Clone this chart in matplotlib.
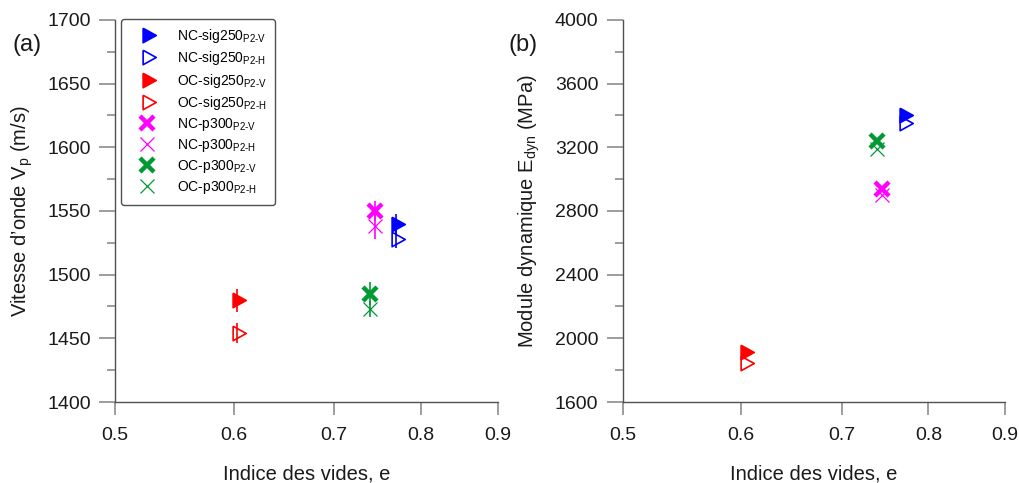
import matplotlib
matplotlib.use('Agg')
import matplotlib.pyplot as plt
from matplotlib.ticker import FixedLocator, NullLocator, MultipleLocator

plt.rcParams['font.family'] = ['Liberation Sans', 'DejaVu Sans']
plt.rcParams['mathtext.fontset'] = 'custom'
plt.rcParams['mathtext.rm'] = 'Liberation Sans'

# Series (void ratio e, wave velocity Vp, error on Vp, dynamic modulus Edyn)
labels = [r'NC-sig250$_{\mathrm{P2\text{-}V}}$', r'NC-sig250$_{\mathrm{P2\text{-}H}}$',
          r'OC-sig250$_{\mathrm{P2\text{-}V}}$', r'OC-sig250$_{\mathrm{P2\text{-}H}}$',
          r'NC-p300$_{\mathrm{P2\text{-}V}}$', r'NC-p300$_{\mathrm{P2\text{-}H}}$',
          r'OC-p300$_{\mathrm{P2\text{-}V}}$', r'OC-p300$_{\mathrm{P2\text{-}H}}$']
e_vals = [0.770, 0.770, 0.603, 0.603, 0.745, 0.745, 0.739, 0.739]
vp_vals = [1540, 1528, 1480, 1454, 1550, 1538, 1485, 1473]
vp_err = [8, 7, 9, 8, 8, 10, 9, 6]
edyn_vals = [3403, 3351, 1912, 1843, 2938, 2901, 3242, 3190]

colors = ['#0000ff', '#0000ff', '#ff0000', '#ff0000',
          '#ff00ff', '#ff00ff', '#009933', '#009933']

# triangle centred on its centroid
tri = [(-1, 1.65), (-1, -1.65), (2, 0), (-1, 1.65)]
styles = [
    dict(marker=tri, ms=12.6, mfc=colors[0], mew=1.2),
    dict(marker=tri, ms=12.6, mfc='none', mew=1.2),
    dict(marker=tri, ms=12.6, mfc=colors[2], mew=1.2),
    dict(marker=tri, ms=12.6, mfc='none', mew=1.2),
    dict(marker='x', ms=10, mew=3.2),
    dict(marker='x', ms=10, mew=0.9),
    dict(marker='x', ms=10, mew=3.2),
    dict(marker='x', ms=10, mew=0.9),
]

xticks = [0.5, 0.6, 0.7, 0.8, 0.9]

fig = plt.figure(figsize=(10.2, 4.83), dpi=100)
ax1 = fig.add_axes([0.1127, 0.1677, 0.3755, 0.7909])
ax2 = fig.add_axes([0.6105, 0.1677, 0.3748, 0.7909])


def style_axis(ax):
    ax.set_xscale('log')
    ax.set_xlim(0.5, 0.9)
    ax.xaxis.set_major_locator(FixedLocator(xticks))
    ax.xaxis.set_minor_locator(NullLocator())
    ax.set_xticklabels([str(t) for t in xticks])
    ax.spines['top'].set_visible(False)
    ax.spines['right'].set_visible(False)
    for s in ['left', 'bottom']:
        ax.spines[s].set_color('#505050')
        ax.spines[s].set_linewidth(1.0)
    ax.tick_params(which='major', direction='out', color='#8c8c8c', width=1.2,
                   labelsize=14, labelcolor='#1a1a1a')
    ax.tick_params(axis='y', which='major', length=11.5, pad=6)
    ax.tick_params(axis='x', which='major', length=9, pad=9)
    ax.tick_params(which='minor', direction='out', color='#8c8c8c', width=1.2, length=5.5)
    ax.set_xlabel('Indice des vides, e', fontsize=14.5, labelpad=15, color='#1a1a1a')


# Panel (a)
for i in range(len(labels)):
    ax1.errorbar(e_vals[i], vp_vals[i], yerr=vp_err[i], fmt='none',
                 ecolor=colors[i], elinewidth=1.2, capsize=0)
    ax1.plot(e_vals[i], vp_vals[i], ls='none', color=colors[i],
             label=labels[i], **styles[i])
style_axis(ax1)
ax1.set_ylim(1400, 1700)
ax1.yaxis.set_major_locator(MultipleLocator(50))
ax1.yaxis.set_minor_locator(MultipleLocator(25))
ax1.set_ylabel(r'Vitesse d’onde V$_{\mathrm{p}}$ (m/s)', fontsize=14.5, labelpad=9,
               color='#1a1a1a')
leg = ax1.legend(loc='upper left', bbox_to_anchor=(0.016, 1.003), fontsize=10,
                 frameon=True, fancybox=True, edgecolor='#505050', framealpha=1,
                 handlelength=2.6, handletextpad=0.8, labelspacing=0.3,
                 borderpad=0.6, borderaxespad=0)
leg.get_frame().set_linewidth(1.0)
fig.text(0.0118, 0.907, '(a)', fontsize=17, va='center', color='#1a1a1a')

# Panel (b)
for i in range(len(labels)):
    ax2.plot(e_vals[i], edyn_vals[i], ls='none', color=colors[i], **styles[i])
style_axis(ax2)
ax2.set_ylim(1600, 4000)
ax2.yaxis.set_major_locator(MultipleLocator(400))
ax2.yaxis.set_minor_locator(MultipleLocator(200))
ax2.set_ylabel(r'Module dynamique E$_{\mathrm{dyn}}$ (MPa)', fontsize=14.5, labelpad=9,
               color='#1a1a1a')
fig.text(0.499, 0.907, '(b)', fontsize=17, va='center', color='#1a1a1a')

fig.savefig('out.png', dpi=100)
